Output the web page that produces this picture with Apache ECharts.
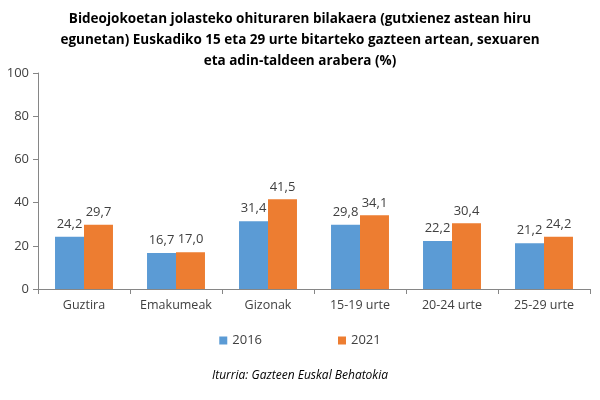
<!DOCTYPE html>
<html>
<head>
<meta charset="utf-8">
<script src="https://cdn.jsdelivr.net/npm/echarts@6/dist/echarts.min.js"></script>
<style>
  html, body { margin: 0; padding: 0; background: #fff; }
  #chart { width: 600px; height: 400px; }
</style>
</head>
<body>
<div id="chart"></div>
<script>
// data
const categories = ['Guztira', 'Emakumeak', 'Gizonak', '15-19 urte', '20-24 urte', '25-29 urte'];
const values2016 = [24.2, 16.7, 31.4, 29.8, 22.2, 21.2];
const values2021 = [29.7, 17.0, 41.5, 34.1, 30.4, 24.2];
const seriesNames = ['2016', '2021'];
const yTicks = [0, 20, 40, 60, 80, 100];

const font = 'Open Sans';
const fmt = p => p.value.toFixed(1).replace('.', ',');

const chart = echarts.init(document.getElementById('chart'));

chart.setOption({
  animation: false,
  textStyle: { fontFamily: font },
  legend: {
    data: seriesNames,
    bottom: 48,
    left: 'center',
    itemWidth: 8,
    itemHeight: 8,
    itemGap: 76,
    icon: 'rect',
    textStyle: { fontSize: 13, color: '#404040', fontFamily: font }
  },
  graphic: [
    {
      type: 'text',
      x: 300,
      y: 9,
      style: {
        text: 'Bideojokoetan jolasteko ohituraren bilakaera (gutxienez astean hiru\negunetan) Euskadiko 15 eta 29 urte bitarteko gazteen artean, sexuaren\neta adin-taldeen arabera (%)',
        align: 'center',
        fontSize: 13.5, fontWeight: 'bold', fill: '#000', lineHeight: 21, fontFamily: font
      }
    },
    {
      type: 'text',
      x: 300,
      y: 370,
      style: { text: 'Iturria: Gazteen Euskal Behatokia', align: 'center', fontSize: 12, fontStyle: 'italic', fill: '#000', fontFamily: font }
    }
  ],
  grid: { left: 38, right: 10, top: 73, bottom: 111, containLabel: false },
  xAxis: {
    type: 'category',
    data: categories,
    axisLine: { lineStyle: { color: '#868686' } },
    axisTick: { show: true, alignWithLabel: false, length: 5, lineStyle: { color: '#868686' } },
    axisLabel: { fontSize: 12.5, color: '#404040', margin: 10, interval: 0 }
  },
  yAxis: {
    type: 'value',
    min: yTicks[0],
    max: yTicks[yTicks.length - 1],
    interval: 20,
    splitLine: { show: false },
    axisLine: { show: true, lineStyle: { color: '#868686' } },
    axisTick: { show: true, length: 5, lineStyle: { color: '#868686' } },
    axisLabel: { fontSize: 13, color: '#404040', margin: 9 }
  },
  series: [
    {
      name: seriesNames[0],
      type: 'bar',
      data: values2016,
      barGap: '0%',
      barCategoryGap: '37%',
      itemStyle: { color: '#5b9bd5' },
      label: { show: true, position: 'top', fontSize: 13, color: '#404040', formatter: fmt, distance: 6 }
    },
    {
      name: seriesNames[1],
      type: 'bar',
      data: values2021,
      itemStyle: { color: '#ed7d31' },
      label: { show: true, position: 'top', fontSize: 13, color: '#404040', formatter: fmt, distance: 6 }
    }
  ]
});
</script>
</body>
</html>
